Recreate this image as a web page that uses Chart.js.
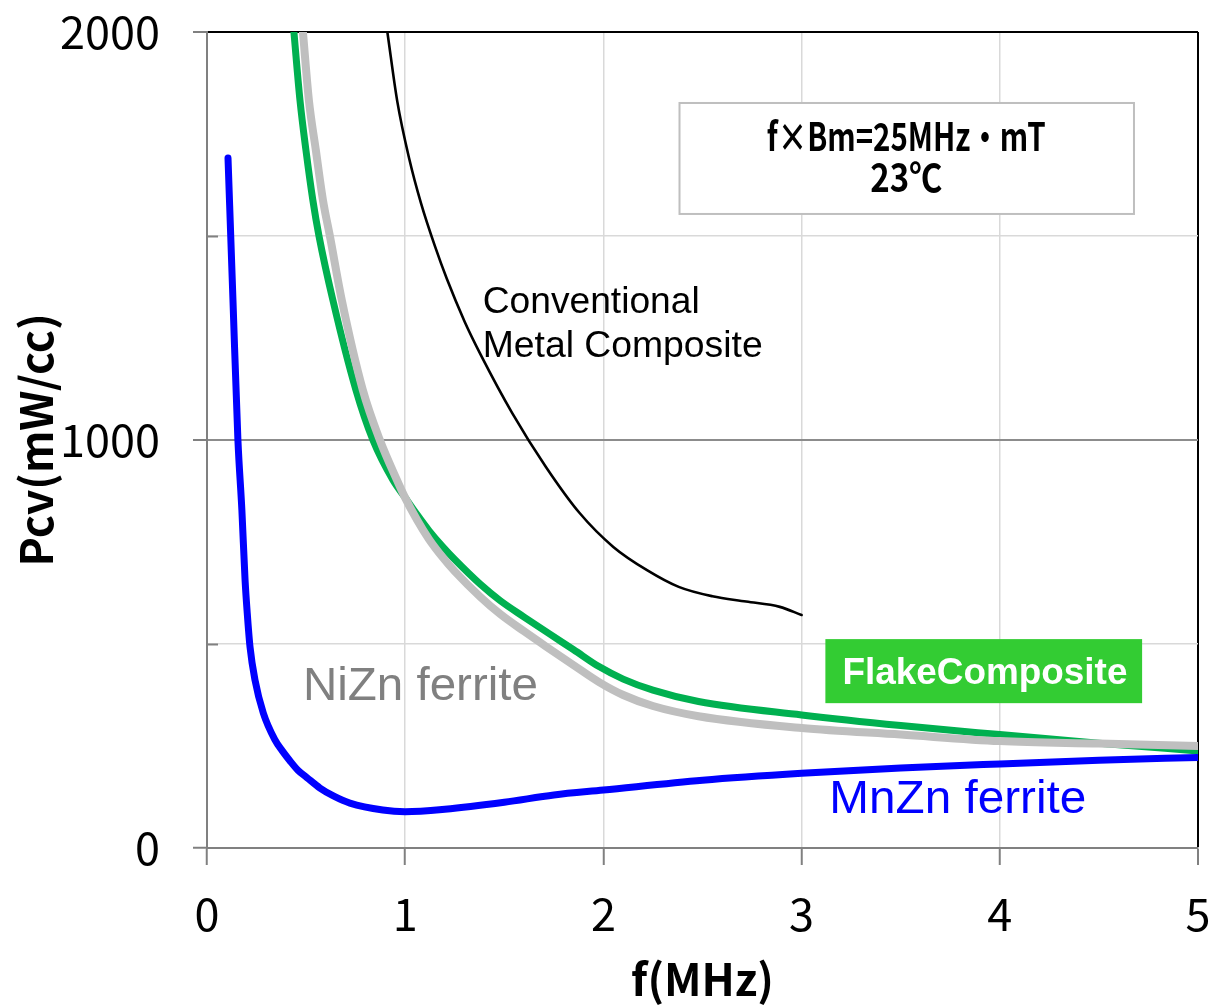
<!DOCTYPE html>
<html>
<head>
<meta charset="utf-8">
<script src="https://cdn.jsdelivr.net/npm/chart.js@4"></script>
<style>
html,body{margin:0;padding:0;background:#fff;}
#wrap{width:1210px;height:1007px;position:relative;}
</style>
</head>
<body>
<div id="wrap"><canvas id="c"></canvas></div>
<script>
// ---- data ----
const mnznFreq = [0.106, 0.131, 0.156, 0.176, 0.192, 0.203, 0.217, 0.242, 0.284, 0.343, 0.38, 0.418, 0.46, 0.503, 0.570, 0.64, 0.721, 0.887, 1.0, 1.2, 1.5, 1.75, 2.0, 2.5, 3.0, 3.5, 4.0, 4.5, 5.0];
const mnznPcv  = [1691, 1343, 1000, 828, 657, 576, 493, 412, 331, 265, 238, 214, 190, 173, 147, 127, 110, 93, 89, 95, 112, 130, 142, 166, 183, 196, 206, 215, 222];

const niznFreq = [0.484, 0.514, 0.549, 0.585, 0.620, 0.680, 0.786, 0.872, 0.958, 0.998, 1.06, 1.12, 1.19, 1.25, 1.38, 1.48, 1.6, 1.71, 1.85, 1.98, 2.1, 2.25, 2.48, 3.0, 3.5, 4.0, 4.5, 5.0];
const niznPcv  = [2000, 1833, 1711, 1588, 1500, 1343, 1123, 1000, 902, 860, 804, 757, 712, 678, 615, 573, 531, 494, 448, 406, 375, 348, 323, 294, 278, 262, 256, 250];

const flakeFreq = [0.4385, 0.469, 0.499, 0.534, 0.565, 0.635, 0.751, 0.837, 0.938, 0.998, 1.06, 1.12, 1.19, 1.25, 1.38, 1.48, 1.6, 1.73, 1.85, 1.98, 2.1, 2.25, 2.48, 3.0, 3.5, 4.0, 4.5, 5.0];
const flakePcv  = [2000, 1833, 1711, 1588, 1500, 1343, 1123, 1000, 902, 860, 817, 778, 738, 707, 646, 606, 566, 524, 486, 444, 414, 387, 359, 326, 300, 278, 257, 238];

const convFreq = [0.91, 0.96, 1.02, 1.08, 1.15, 1.21, 1.3, 1.38, 1.54, 1.71, 1.88, 2.05, 2.22, 2.38, 2.55, 2.72, 2.89, 3.0];
const convPcv  = [2000, 1830, 1690, 1580, 1475, 1395, 1290, 1210, 1066, 934, 821, 738, 681, 640, 617, 604, 591, 571];

const xTickValues = [0, 1, 2, 3, 4, 5];
const yTickLabels = ['0', '1000', '2000'];
const yMinorTicks = [500, 1500];
const xTitle = 'f(MHz)';
const yTitle = 'Pcv(mW/cc)';
const seriesNames = ['MnZn ferrite', 'NiZn ferrite', 'FlakeComposite', 'Conventional Metal Composite'];
const convLabelLines = ['Conventional', 'Metal Composite'];
const conditionLines = ['f×Bm=25MHz・mT', '23℃'];

// ---- styling ----
const CAL = "'Noto Sans CJK JP', 'Noto Sans', sans-serif";
const ARIAL = "'Liberation Sans', Arial, sans-serif";

function pts(xs, ys) { return xs.map((x, i) => ({ x: x, y: ys[i] })); }

function fitText(ctx, text, px, py, font, color, align, width) {
  ctx.save();
  ctx.font = font;
  ctx.fillStyle = color;
  ctx.textBaseline = 'alphabetic';
  ctx.textAlign = align;
  const w = ctx.measureText(text).width;
  const s = width / w;
  ctx.translate(px, py);
  ctx.scale(s, 1);
  ctx.fillText(text, 0, 0);
  ctx.restore();
}

const annotations = {
  id: 'annotations',
  afterDatasetsDraw(chart) {
    const { ctx, chartArea: a } = chart;
    const X = v => chart.scales.x.getPixelForValue(v);
    const Y = v => chart.scales.y.getPixelForValue(v);

    // inward minor ticks on y axis
    ctx.save();
    ctx.strokeStyle = '#808080';
    ctx.lineWidth = 2;
    yMinorTicks.forEach(v => {
      const py = Math.round(Y(v)) + 0.5;
      ctx.beginPath(); ctx.moveTo(a.left, py); ctx.lineTo(a.left + 11, py); ctx.stroke();
    });
    ctx.restore();

    // condition box
    ctx.save();
    const bx0 = X(2.384), bx1 = X(4.677), by0 = Y(1826), by1 = Y(1554);
    ctx.fillStyle = '#ffffff';
    ctx.fillRect(bx0, by0, bx1 - bx0, by1 - by0);
    ctx.strokeStyle = '#bfbfbf';
    ctx.lineWidth = 2;
    ctx.strokeRect(bx0, by0, bx1 - bx0, by1 - by0);
    ctx.restore();
    fitText(ctx, conditionLines[0], X(3.528), Y(1708), `bold 39px ${CAL}`, '#000', 'center', 279);
    fitText(ctx, conditionLines[1], X(3.528), Y(1608), `bold 39px ${CAL}`, '#000', 'center', 72);

    // Conventional metal composite label
    fitText(ctx, convLabelLines[0], X(1.391), Y(1311), `37px ${ARIAL}`, '#000', 'left', 217);
    fitText(ctx, convLabelLines[1], X(1.391), Y(1203), `37px ${ARIAL}`, '#000', 'left', 280);

    // NiZn / MnZn labels
    fitText(ctx, seriesNames[1], X(0.484), Y(363), `46px ${ARIAL}`, '#808080', 'left', 235);
    fitText(ctx, seriesNames[0], X(3.140), Y(86), `46px ${ARIAL}`, '#0000ff', 'left', 257);

    // FlakeComposite label box
    ctx.save();
    const fx0 = X(3.120), fx1 = X(4.718), fy0 = Y(512), fy1 = Y(355);
    ctx.fillStyle = '#33cc33';
    ctx.fillRect(fx0, fy0, fx1 - fx0, fy1 - fy0);
    ctx.restore();
    fitText(ctx, seriesNames[2], X(3.206), Y(402), `bold 36px ${ARIAL}`, '#ffffff', 'left', 285);
  }
};

const common = {
  pointRadius: 0,
  pointHoverRadius: 0,
  fill: false,
  cubicInterpolationMode: 'monotone',
  borderCapStyle: 'round',
  borderJoinStyle: 'round',
  clip: 0
};

new Chart(document.getElementById('c'), {
  type: 'line',
  data: {
    datasets: [
      Object.assign({ label: seriesNames[0], data: pts(mnznFreq, mnznPcv), borderColor: '#0000ff', borderWidth: 7 }, common),
      Object.assign({ label: seriesNames[1], data: pts(niznFreq, niznPcv), borderColor: '#bfbfbf', borderWidth: 8 }, common),
      Object.assign({ label: seriesNames[2], data: pts(flakeFreq, flakePcv), borderColor: '#00b050', borderWidth: 7 }, common),
      Object.assign({ label: seriesNames[3], data: pts(convFreq, convPcv), borderColor: '#000000', borderWidth: 2.6 }, common)
    ]
  },
  options: {
    responsive: true,
    maintainAspectRatio: false,
    animation: false,
    events: [],
    layout: { padding: { top: 32, right: 12, bottom: 0, left: 0 } },
    plugins: { legend: { display: false }, tooltip: { enabled: false }, title: { display: false } },
    scales: {
      x: {
        type: 'linear',
        min: 0, max: 5,
        afterBuildTicks: s => { s.ticks = xTickValues.map(v => ({ value: v })); },
        afterFit: s => { s.height = 159; s.paddingLeft = 0; s.paddingRight = 0; },
        ticks: {
          color: '#000',
          font: { family: CAL, size: 45 },
          padding: 22,
          maxRotation: 0,
          callback: v => String(v)
        },
        grid: {
          color: c => (c.tick && c.tick.value === 5) ? '#000000' : '#d9d9d9',
          lineWidth: c => (c.tick && c.tick.value === 5) ? 2 : 1.5,
          tickColor: '#808080',
          tickLength: 17,
          tickWidth: 2
        },
        border: { color: '#808080', width: 2 },
        title: {
          display: true,
          text: xTitle,
          color: '#000',
          font: { family: CAL, size: 44, weight: 'bold' },
          padding: { top: 0, bottom: 1 }
        }
      },
      y: {
        type: 'linear',
        min: 0, max: 2000,
        afterFit: s => { s.width = 207; s.paddingTop = 0; s.paddingBottom = 0; },
        ticks: {
          stepSize: 500,
          color: '#000',
          font: { family: CAL, size: 45 },
          padding: 33,
          callback: v => yTickLabels.includes(String(v)) ? String(v) : ''
        },
        grid: {
          color: c => {
            const v = c.tick ? c.tick.value : null;
            if (v === 2000) return '#000000';
            if (v === 1000) return '#8c8c8c';
            if (v === 0) return '#808080';
            return '#d9d9d9';
          },
          lineWidth: c => (c.tick && (c.tick.value === 2000 || c.tick.value === 1000)) ? 2 : 1.5,
          tickColor: c => (c.tick && c.tick.value % 1000 === 0) ? '#808080' : 'rgba(0,0,0,0)',
          tickLength: 14,
          tickWidth: 2
        },
        border: { color: '#808080', width: 2 },
        title: {
          display: true,
          text: yTitle,
          color: '#000',
          font: { family: CAL, size: 44, weight: 'bold' },
          padding: { top: 10, bottom: 0 }
        }
      }
    }
  },
  plugins: [annotations]
});
</script>
</body>
</html>
